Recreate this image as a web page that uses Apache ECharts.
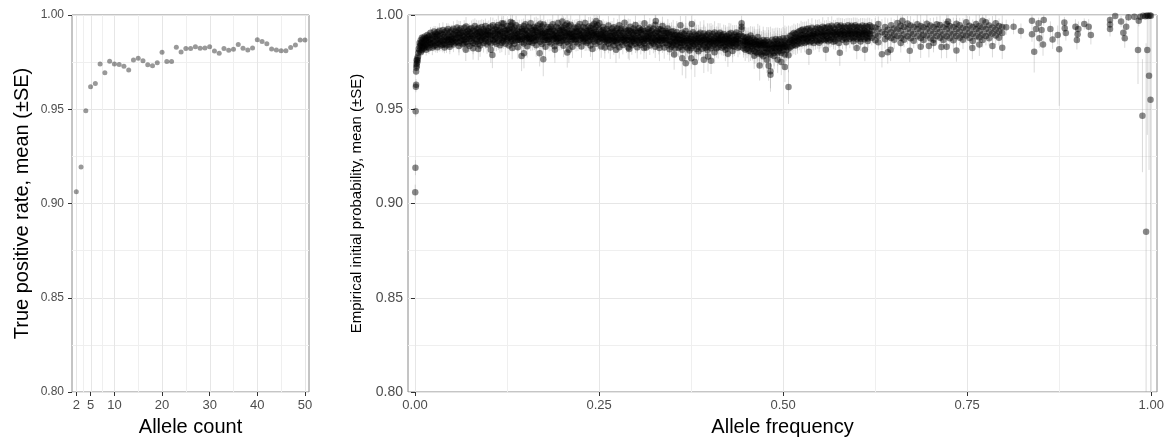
<!DOCTYPE html>
<html><head><meta charset="utf-8">
<script src="https://cdn.jsdelivr.net/npm/echarts@6/dist/echarts.min.js"></script>
<style>html,body{margin:0;padding:0;background:#fff}#c{width:1169px;height:441px}</style>
</head><body><div id="c"></div><script>
// ---- tick / grid values ----
const countTicks = [2, 5, 10, 20, 30, 40, 50];
const countMinor = [3.5, 7.5, 15, 25, 35, 45];
const freqTicks = [0, 0.25, 0.5, 0.75, 1];
const freqMinor = [0.125, 0.375, 0.625, 0.875];

// ---- left panel: true positive rate by allele count ----
const alleleCount = [2,3,4,5,6,7,8,9,10,11,12,13,14,15,16,17,18,19,20,21,22,23,24,25,26,27,28,29,30,31,32,33,34,35,36,37,38,39,40,41,42,43,44,45,46,47,48,49,50];
const tprMean = [.9062,.9193,.9492,.9620,.9637,.9740,.9694,.9754,.9740,.9738,.9728,.9708,.9761,.9770,.9757,.9736,.9731,.9747,.9802,.9753,.9753,.9829,.9804,.9822,.9822,.9832,.9823,.9825,.9832,.9809,.9797,.9822,.9813,.9818,.9844,.9823,.9814,.9825,.9869,.9860,.9848,.9820,.9814,.9811,.9811,.9827,.9841,.9867,.9867];

// ---- right panel: empirical initial probability by allele frequency ----
// edge points: [freq, mean, se]
const afEdge = [[.0003,.906,.004],[.0006,.919,.004],[.0009,.949,.003],[.0012,.962,.003],[.0015,.963,.003],[.0015,.970,.002],[.0018,.972,.002],[.002,.974,.002],[.0022,.976,.002],[.0025,.973,.002],[.003,.975,.002],[.0033,.977,.002],[.0036,.976,.002],[.004,.978,.002],[.0045,.980,.002],[.005,.982,.002]];
// band rows: [freq, se, mean, mean, ...]
const afBand = [
[.0062,.003,.9812,.9851,.9834],[.0078,.003,.9838,.9866,.9803,.9847],[.0094,.002,.9857,.9826,.9879,.9813],[.0113,.003,.9835,.9874,.9852,.9821],[.0131,.002,.9868,.9829,.9847,.9884],[.0152,.003,.9841,.9877,.9815,.9862],[.0168,.002,.9879,.9848,.9894,.9832],[.0189,.003,.9856,.9823,.9887,.9869],
[.0211,.003,.9871,.9842,.9906,.9853],[.0236,.004,.9849,.9893,.9827,.9875],[.0259,.003,.9886,.9858,.9912,.9836],[.0281,.004,.9863,.9901,.9841,.9884],[.0304,.003,.9872,.9895,.9829,.9851,.9908],[.0331,.004,.9889,.9846,.9917,.9866],[.0352,.003,.9858,.9902,.9875,.9838],[.0379,.004,.9897,.9864,.9921,.9842],[.0401,.003,.9869,.9847,.9908,.9885,.9827],[.0428,.004,.9881,.9916,.9839,.9863],[.0449,.003,.9894,.9857,.9926,.9871],[.0473,.004,.9868,.9909,.9844,.9887,.9832],[.0497,.003,.9885,.9856,.9918,.9872],
[.0522,.004,.9899,.9861,.9927,.9843,.9878],[.0548,.003,.9871,.9912,.9853,.9894],[.0571,.004,.9906,.9879,.9934,.9858],[.0597,.005,.9883,.9851,.9919,.9897,.9836],[.0619,.004,.9878,.9928,.9862,.9905],[.0646,.003,.9891,.9845,.9913,.9869],[.0668,.004,.9867,.9932,.9884,.9902,.9849],[.0693,.005,.9909,.9874,.9939,.9857],[.0717,.004,.9881,.9846,.9916,.9898],[.0741,.003,.9873,.9908,.9835,.9889,.9926],[.0766,.004,.9899,.9931,.9861,.9877],[.0789,.006,.9886,.9917,.9823,.9852],[.0813,.004,.9911,.9876,.9942,.9893,.9848],[.0838,.005,.9871,.9902,.9859,.9924],[.0861,.004,.9888,.9931,.9847,.9909],[.0884,.006,.9864,.9913,.9838,.9896,.9879],[.0907,.004,.9903,.9869,.9937,.9882],[.0931,.005,.9886,.9924,.9851,.9912],[.0956,.004,.9908,.9873,.9941,.9861,.9892],[.0979,.005,.9879,.9916,.9844,.9898],
[.1002,.004,.9894,.9931,.9858,.9912],[.1027,.005,.9873,.9906,.9849,.9938,.9887],[.1051,.007,.9788],[.1058,.004,.9915,.9866,.9946,.9893],[.1083,.005,.9889,.9857,.9924,.9903,.9872],[.1106,.004,.9921,.9879,.9848,.9937],[.1131,.005,.9896,.9864,.9947,.9913],[.1154,.004,.9874,.9918,.9839,.9891,.9902],[.1179,.005,.9907,.9936,.9869,.9853],[.1203,.004,.9889,.9861,.9926,.9955,.9878],[.1227,.006,.9916,.9883,.9847,.9903],[.1252,.004,.9898,.9941,.9866,.9921,.9875],[.1276,.005,.9881,.9912,.9838,.9929],[.1301,.004,.9909,.9871,.9944,.9886,.9857],[.1324,.005,.9891,.9926,.9862,.9957],[.1348,.004,.9917,.9879,.9848,.9934,.9895],[.1373,.005,.9903,.9864,.9946,.9883],[.1397,.006,.9876,.9915,.9829,.9899,.9868],[.1421,.004,.9908,.9935,.9869,.9884],[.1448,.008,.9782],[.1452,.005,.9887,.9856,.9927,.9912,.9873],[.1476,.004,.9914,.9881,.9849,.9941],[.1499,.005,.9899,.9866,.9951,.9884,.9922],[.1523,.006,.9878,.9917,.9834,.9893],[.1548,.004,.9906,.9938,.9871,.9886,.9857],[.1572,.005,.9891,.9859,.9929,.9956,.9874],[.1597,.004,.9918,.9878,.9852,.9903],[.1621,.005,.9897,.9937,.9864,.9885,.9921],[.1646,.006,.9882,.9914,.9839,.9931,.9866],[.1669,.004,.9907,.9871,.9944,.9892],[.1693,.007,.9797],[.1701,.005,.9888,.9925,.9858,.9909,.9953],[.1724,.004,.9916,.9881,.9846,.9939,.9897],[.1742,.009,.9765],[.1749,.005,.9904,.9865,.9949,.9884],[.1773,.006,.9879,.9913,.9831,.9902,.9869],[.1798,.004,.9908,.9936,.9868,.9889],[.1822,.005,.9886,.9857,.9927,.9911,.9874],[.1847,.004,.9915,.9883,.9849,.9938],[.1871,.005,.9899,.9869,.9951,.9887,.9922],[.1896,.006,.9877,.9914,.9834,.9893],[.1919,.004,.9904,.9938,.9871,.9886,.9859],[.1944,.005,.9892,.9861,.9929,.9957,.9876],[.1968,.004,.9917,.9879,.9852,.9906],[.1993,.005,.9898,.9937,.9864,.9885,.9921],[.2017,.006,.9881,.9912,.9837,.9932,.9866],[.2042,.004,.9906,.9869,.9946,.9891],[.2066,.005,.9889,.9924,.9858,.9909,.9955],[.2068,.008,.9801],[.2091,.004,.9916,.9882,.9848,.9941,.9896],[.2115,.005,.9902,.9863,.9948,.9884],[.2139,.006,.9882,.9915,.9831,.9899,.9871],[.2164,.004,.9907,.9934,.9868,.9886],[.2188,.005,.9889,.9857,.9928,.9912,.9873],[.2213,.004,.9913,.9884,.9849,.9939],[.2237,.005,.9901,.9868,.9952,.9889,.9921],[.2261,.006,.9878,.9916,.9833,.9894],[.2286,.004,.9907,.9937,.9872,.9885,.9861],[.2311,.005,.9893,.9859,.9929,.9958,.9876],[.2334,.004,.9914,.9881,.9851,.9904],[.2359,.005,.9898,.9939,.9862,.9887,.9919],[.2383,.006,.9883,.9914,.9838,.9931,.9867],[.2408,.004,.9905,.9871,.9944,.9893],[.2432,.005,.9891,.9923,.9859,.9907,.9954],[.2457,.004,.9913,.9879,.9848,.9937,.9897],[.2481,.005,.9899,.9865,.9946,.9884],
[.2505,.005,.9891,.9858,.9924,.9956,.9874],[.2529,.006,.9878,.9913,.9833,.9896],[.2554,.004,.9903,.9869,.9937,.9884,.9921],[.2578,.006,.9871,.9906,.9828,.9857,.9889],[.2603,.004,.9896,.9926,.9859,.9878],[.2627,.005,.9882,.9847,.9915,.9944,.9866],[.2652,.006,.9906,.9869,.9827,.9889],[.2676,.004,.9889,.9928,.9858,.9876,.9911],[.2701,.005,.9871,.9905,.9839,.9935,.9862],[.2725,.004,.9895,.9861,.9916,.9883],[.2749,.005,.9879,.9849,.9928,.9903,.9868],[.2774,.006,.9907,.9871,.9829,.9946],[.2798,.004,.9893,.9857,.9917,.9876,.9929],[.2823,.005,.9869,.9905,.9841,.9884],[.2847,.004,.9891,.9926,.9861,.9959,.9874],[.2872,.005,.9881,.9849,.9914,.9866],[.2896,.006,.9905,.9868,.9828,.9888,.9921],[.2921,.004,.9882,.9915,.9847,.9938],[.2945,.005,.9871,.9906,.9839,.9879,.9859],[.2969,.004,.9895,.9861,.9928,.9874,.9909],[.2994,.005,.9878,.9848,.9916,.9947],[.3018,.006,.9904,.9869,.9829,.9889,.9861],[.3043,.004,.9881,.9913,.9852,.9931],[.3067,.005,.9869,.9907,.9841,.9882,.9919],[.3092,.004,.9896,.9857,.9926,.9873],[.3116,.005,.9879,.9849,.9915,.9956,.9864],[.3141,.006,.9903,.9871,.9827,.9887],[.3165,.004,.9887,.9924,.9859,.9876,.9909],[.3189,.005,.9872,.9905,.9838,.9934],[.3214,.004,.9894,.9862,.9917,.9881,.9854],[.3238,.005,.9879,.9847,.9927,.9898],[.3263,.006,.9905,.9868,.9832,.9948,.9863],[.3287,.004,.9889,.9858,.9914,.9874],[.3312,.005,.9869,.9906,.9841,.9884,.9924],[.3336,.004,.9896,.9925,.9861,.9877],[.3361,.005,.9878,.9849,.9916,.9941,.9866],[.3385,.006,.9904,.9868,.9828,.9887],[.3409,.004,.9881,.9915,.9852,.9874,.9906],[.3434,.005,.9868,.9904,.9839,.9929],[.3458,.006,.9885,.9847,.9818,.9897,.9864],[.3483,.005,.9859,.9896,.9831,.9911],[.3507,.006,.9877,.9841,.9914,.9883,.9852],[.3532,.005,.9858,.9892,.9824,.9871],[.3556,.006,.9879,.9842,.9908,.9861,.9894],[.3581,.005,.9855,.9889,.9826,.9873],
[.3605,.005,.9869,.9893,.9831,.9945,.9851],[.3629,.006,.9852,.9884,.9815,.9906,.9867],[.3654,.005,.9874,.9841,.9899,.9861],[.3678,.008,.9863,.9832,.9744,.9915,.9878],[.3703,.005,.9851,.9889,.9824,.9868],[.3727,.007,.9875,.9839,.9901,.9812,.9859],[.3752,.006,.9857,.9887,.9823,.9771,.9874],[.3776,.005,.9869,.9836,.9908,.9849],[.3801,.008,.9876,.9843,.9751,.9896,.9861],[.3825,.006,.9853,.9889,.9819,.9871],[.3850,.005,.9865,.9832,.9898,.9808,.9878],[.3874,.006,.9875,.9844,.9906,.9856],[.3898,.005,.9852,.9886,.9821,.9865],[.3923,.007,.9869,.9838,.9762,.9902,.9879],[.3947,.005,.9856,.9888,.9825,.9872],[.3972,.006,.9866,.9831,.9896,.9849,.9814],[.3996,.005,.9874,.9844,.9905,.9861],[.4021,.007,.9757,.9857,.9887,.9823,.9871],[.4045,.005,.9867,.9835,.9899,.9852],[.4069,.006,.9876,.9843,.9907,.9802,.9861],[.4094,.005,.9855,.9889,.9824,.9873],[.4118,.006,.9865,.9829,.9897,.9851,.9878],[.4143,.005,.9873,.9842,.9906,.9863],[.4167,.004,.9853,.9884,.9826,.9869,.9893],[.4192,.005,.9867,.9833,.9899,.9851],[.4216,.006,.9874,.9841,.9815,.9886,.9858],[.4240,.005,.9854,.9888,.9822,.9871],[.4265,.006,.9866,.9834,.9898,.9849,.9879],[.4289,.005,.9875,.9842,.9905,.9862],[.4314,.006,.9852,.9886,.9809,.9868,.9836],[.4338,.005,.9868,.9832,.9896,.9853],[.4363,.004,.9873,.9843,.9907,.9862,.9884],[.4387,.005,.9855,.9889,.9826,.9872],[.4412,.004,.9864,.9831,.9896,.9851],[.4436,.004,.9924,.9956,.9938,.9889],[.4461,.005,.9855,.9824,.9884,.9863,.9838],[.4485,.006,.9846,.9877,.9816,.9859],
[.4509,.005,.9854,.9821,.9883,.9839,.9866],[.4534,.006,.9841,.9811,.9874,.9856],[.4558,.005,.9836,.9863,.9806,.9891,.9847],[.4583,.006,.9853,.9819,.9878,.9834],[.4607,.007,.9844,.9811,.9869,.9784,.9857],[.4632,.006,.9831,.9864,.9802,.9846],[.4656,.007,.9824,.9855,.9883,.9796,.9841],[.4681,.008,.9835,.9803,.9864,.9732,.9848],[.4705,.006,.9822,.9854,.9791,.9839],[.4730,.007,.9839,.9806,.9868,.9781,.9851],[.4754,.006,.9826,.9858,.9798,.9843],[.4779,.007,.9837,.9803,.9866,.9762,.9822],[.4803,.008,.9824,.9795,.9855,.9731,.9841],[.4828,.009,.9819,.9789,.9701,.9683,.9848],[.4852,.006,.9838,.9808,.9869,.9824],[.4877,.007,.9827,.9798,.9859,.9783,.9844],[.4901,.006,.9844,.9811,.9873,.9827],[.4926,.007,.9831,.9863,.9801,.9762,.9848],[.4950,.006,.9839,.9809,.9871,.9823],[.4975,.007,.9829,.9859,.9799,.9751,.9844],[.4999,.006,.9844,.9812,.9876,.9828],[.5024,.008,.9833,.9864,.9791,.9724,.9849],[.5048,.006,.9845,.9814,.9878,.9831],[.5073,.009,.9618,.9854,.9821,.9786],[.5097,.005,.9859,.9829,.9889,.9869],[.5121,.005,.9866,.9835,.9895,.9852],[.5146,.005,.9875,.9842,.9904,.9861],[.5170,.005,.9869,.9838,.9899,.9882],
[.5195,.005,.9878,.9845,.9907,.9862],[.5219,.004,.9885,.9853,.9914,.9871],[.5244,.005,.9879,.9849,.9919,.9893],[.5268,.004,.9894,.9861,.9923,.9876],[.5293,.005,.9881,.9852,.9915,.9897],[.5317,.004,.9889,.9858,.9926,.9872],[.5342,.005,.9896,.9864,.9929,.9881],[.5366,.004,.9886,.9855,.9918,.9902],[.5391,.005,.9893,.9862,.9933,.9877],[.5415,.004,.9888,.9914,.9852,.9901],[.5440,.005,.9898,.9866,.9926,.9882],[.5464,.004,.9891,.9861,.9934,.9906],[.5489,.005,.9899,.9869,.9928,.9853],[.5513,.004,.9893,.9924,.9863,.9908],[.5538,.005,.9902,.9872,.9938,.9887],[.5562,.004,.9896,.9866,.9931,.9912],
[.5587,.004,.9903,.9871,.9933,.9889],[.5611,.005,.9909,.9877,.9939,.9861],[.5636,.004,.9897,.9867,.9928,.9913],[.5660,.005,.9912,.9882,.9943,.9893],[.5685,.004,.9904,.9873,.9934,.9858],[.5709,.005,.9894,.9924,.9864,.9908],[.5734,.004,.9913,.9884,.9945,.9897],[.5758,.005,.9906,.9875,.9936,.9852],[.5783,.004,.9914,.9885,.9944,.9899],[.5807,.005,.9901,.9933,.9869,.9916],[.5832,.004,.9909,.9879,.9939,.9894],[.5856,.005,.9902,.9872,.9933,.9855],[.5881,.004,.9915,.9886,.9945,.9901],[.5905,.005,.9903,.9934,.9874,.9917],[.5930,.004,.9912,.9882,.9943,.9896],[.5954,.005,.9906,.9876,.9937,.9861],[.5979,.004,.9914,.9884,.9946,.9902],[.6003,.005,.9901,.9935,.9871,.9918],[.6028,.004,.9909,.9881,.9939,.9894],[.6052,.005,.9904,.9874,.9934,.9859],[.6077,.004,.9913,.9885,.9944,.9899],[.6101,.005,.9903,.9933,.9872,.9916],[.6126,.004,.9911,.9881,.9941,.9895],[.6150,.005,.9905,.9875,.9936,.9862],[.6175,.004,.9914,.9886,.9945,.9901],
[.6204,.004,.9916,.9879,.9938],[.6251,.005,.9897,.9934,.9866],[.6293,.004,.9925,.9889,.9952,.9856],[.6342,.007,.9792,.9908],[.6384,.005,.9901,.9937,.9871],[.6421,.006,.9922,.9886,.9802],[.6467,.004,.9908,.9946,.9878],[.6509,.005,.9896,.9869,.9928],[.6553,.004,.9924,.9889,.9958],[.6598,.005,.9915,.9879,.9943,.9851],[.6642,.004,.9898,.9936,.9869],[.6689,.004,.9926,.9955,.9887],[.6731,.005,.9909,.9876,.9944],[.6774,.004,.9901,.9937,.9864],[.6822,.005,.9924,.9887,.9951],[.6868,.006,.9911,.9878,.9941,.9832],[.6907,.004,.9897,.9935,.9868],[.6952,.005,.9926,.9891,.9953],[.6998,.004,.9913,.9876,.9944],[.7043,.005,.9902,.9936,.9869,.9852],[.7087,.004,.9924,.9889,.9951],[.7131,.005,.9911,.9879,.9947],[.7176,.004,.9898,.9935,.9868],[.7221,.006,.9925,.9887,.9952,.9831],[.7264,.004,.9909,.9877,.9941],[.7312,.005,.9901,.9936,.9866],[.7354,.006,.9924,.9889,.9953,.9812],[.7398,.004,.9912,.9879,.9945],[.7443,.005,.9897,.9933,.9869],[.7487,.004,.9926,.9891,.9961],[.7532,.005,.9908,.9878,.9943],[.7576,.004,.9901,.9936,.9862],[.7621,.005,.9924,.9887,.9952],[.7665,.006,.9912,.9881,.9941,.9843],[.7709,.004,.9898,.9935,.9868],[.7754,.005,.9926,.9889,.9962],[.7798,.004,.9909,.9877,.9944],[.7843,.006,.9902,.9934,.9835],[.7887,.005,.9923,.9891,.9956],[.7932,.004,.9911,.9879,.9942],[.7976,.006,.9904,.9937,.9826]
];
// scattered fringe points around the band: [freq, mean, se]
const afFringe = [[.069,.9816,.006],[.086,.982,.006],[.103,.9816,.007],[.118,.9956,.004],[.130,.9963,.004],[.132,.9825,.006],[.148,.9797,.008],[.190,.9816,.007],[.200,.9965,.004],[.209,.9816,.007],[.241,.982,.006],[.246,.9968,.004],[.273,.9816,.007],[.291,.982,.006],[.311,.9825,.006],[.327,.9968,.004],[.332,.9825,.007],[.352,.979,.008],[.363,.977,.009],[.376,.9952,.005],[.398,.978,.008],[.425,.9795,.007],[.535,.9805,.007],[.558,.9815,.006],[.577,.980,.007],[.600,.9825,.006],[.611,.9815,.006],[.646,.9815,.006],[.662,.997,.004],[.672,.981,.006],[.698,.9835,.006],[.715,.983,.006],[.724,.9965,.004],[.757,.9825,.006],[.771,.997,.004]];
// sparse high-frequency points: [freq, mean, se]
const afSparse = [[.803,.9935,.004],[.813,.9938,.004],[.823,.9915,.004],[.838,.997,.003],[.838,.9898,.004],[.841,.9805,.011],[.8435,.9926,.004],[.847,.9956,.003],[.848,.9876,.005],[.851,.992,.004],[.853,.9844,.006],[.854,.9973,.003],[.863,.9926,.004],[.866,.987,.005],[.873,.9894,.005],[.875,.9818,.03],[.882,.996,.003],[.8825,.993,.004],[.884,.9904,.004],[.897,.9938,.004],[.899,.9867,.005],[.900,.9898,.004],[.901,.9926,.004],[.909,.9952,.003],[.915,.9938,.004],[.918,.9894,.005],[.944,.9973,.002],[.944,.995,.003],[.944,.9926,.004],[.951,.9995,.001],[.959,.9965,.003],[.962,.9906,.004],[.964,.9876,.005],[.966,.9938,.004],[.969,.9988,.002],[.977,.9991,.002],[.982,.9814,.018],[.983,.997,.003],[.985,.9991,.002],[.988,.9466,.03],[.989,.9996,.001],[.992,.9993,.001],[.993,.885,.1],[.994,.9997,.001],[.9946,.9814,.045],[.996,.9995,.001],[.997,.9678,.05],[.998,.9998,.001],[.999,.955,.16],[.9995,.9996,.001]];

// ---- build series data ----
const afPoints = [];
afEdge.forEach(r => afPoints.push([r[0], r[1], r[2]]));
afBand.forEach(r => { for (let i = 2; i < r.length; i++) afPoints.push([r[0], r[i], r[1]]); });
afFringe.forEach(r => afPoints.push([r[0], r[1], r[2]]));
afSparse.forEach(r => afPoints.push([r[0], r[1], r[2]]));
const afScatter = afPoints.map(p => [p[0], p[1]]);
const afErr = afPoints.map(p => [p[0], p[1] - p[2], p[1] + p[2]]);

const FONT = 'Liberation Sans, Arial, Helvetica, sans-serif';
const LABEL = '#4d4d4d';

function vGrid(vals, major) { return vals.map(v => [v, 0.9, major ? 1 : 0]); }
function gridRender(params, api) {
  const cs = params.coordSys;
  const x = Math.round(api.coord([api.value(0), 0.9])[0]) + 0.5;
  return { type: 'line', silent: true,
    shape: { x1: x, y1: cs.y, x2: x, y2: cs.y + cs.height },
    style: { stroke: api.value(2) ? '#e6e6e6' : '#efefef', lineWidth: 1 } };
}
function errRender(params, api) {
  const x = api.value(0);
  const p1 = api.coord([x, api.value(1)]);
  const p2 = api.coord([x, api.value(2)]);
  return { type: 'line', silent: true,
    shape: { x1: p1[0], y1: p1[1], x2: p2[0], y2: p2[1] },
    style: { stroke: 'rgba(160,160,160,0.4)', lineWidth: 1 } };
}

function yAxisOpt(gridIndex, name, nameSize, nameGap, labelSize, margin) {
  return {
    type: 'value', gridIndex, min: 0.8, max: 1.0, interval: 0.05,
    name, nameLocation: 'middle', nameGap,
    nameTextStyle: { fontFamily: FONT, fontSize: nameSize, color: '#000' },
    axisLine: { show: false },
    axisTick: { show: true, length: 4, lineStyle: { color: '#333' } },
    axisLabel: { fontFamily: FONT, fontSize: labelSize, color: LABEL, margin, formatter: v => v.toFixed(2) },
    splitLine: { show: true, lineStyle: { color: '#e6e6e6', width: 1 } },
    minorTick: { show: false, splitNumber: 2 },
    minorSplitLine: { show: true, lineStyle: { color: '#efefef', width: 1 } }
  };
}

const chart = echarts.init(document.getElementById('c'), null, { renderer: 'canvas' });
chart.setOption({
  animation: false,
  backgroundColor: '#fff',
  grid: [
    { left: 72, right: 860, top: 15, bottom: 49, show: true, borderColor: '#8a8a8a', borderWidth: 1, backgroundColor: 'transparent', containLabel: false, outerBoundsMode: 'none' },
    { left: 408, right: 12, top: 15, bottom: 49, show: true, borderColor: '#8a8a8a', borderWidth: 1, backgroundColor: 'transparent', containLabel: false, outerBoundsMode: 'none' }
  ],
  xAxis: [
    { type: 'value', gridIndex: 0, min: 1.1, max: 50.85,
      name: 'Allele count', nameLocation: 'middle', nameGap: 25,
      nameTextStyle: { fontFamily: FONT, fontSize: 20, color: '#000' },
      axisLine: { show: false },
      axisTick: { show: true, length: 4, lineStyle: { color: '#333' }, customValues: countTicks },
      axisLabel: { fontFamily: FONT, fontSize: 13, color: LABEL, margin: 7, customValues: countTicks, formatter: v => String(v) },
      splitLine: { show: false } },
    { type: 'value', gridIndex: 1, min: -0.0095, max: 1.0078,
      name: 'Allele frequency', nameLocation: 'middle', nameGap: 25,
      nameTextStyle: { fontFamily: FONT, fontSize: 20, color: '#000' },
      axisLine: { show: false },
      axisTick: { show: true, length: 4, lineStyle: { color: '#333' }, customValues: freqTicks },
      axisLabel: { fontFamily: FONT, fontSize: 13, color: LABEL, margin: 7, customValues: freqTicks, formatter: v => v.toFixed(2) },
      splitLine: { show: false } }
  ],
  yAxis: [
    yAxisOpt(0, 'True positive rate, mean (\u00b1SE)', 20, 40, 12, 8),
    yAxisOpt(1, 'Empirical initial probability, mean (\u00b1SE)', 15, 40, 14, 5)
  ],
  series: [
    { type: 'custom', xAxisIndex: 0, yAxisIndex: 0, z: 1, silent: true, renderItem: gridRender,
      data: vGrid(countTicks, true).concat(vGrid(countMinor, false)), encode: { x: 0, y: 1 } },
    { type: 'custom', xAxisIndex: 1, yAxisIndex: 1, z: 1, silent: true, renderItem: gridRender,
      data: vGrid(freqTicks, true).concat(vGrid(freqMinor, false)), encode: { x: 0, y: 1 } },
    { type: 'scatter', xAxisIndex: 0, yAxisIndex: 0, z: 3, symbolSize: 5,
      itemStyle: { color: 'rgba(0,0,0,0.5)' },
      data: alleleCount.map((c, i) => [c, tprMean[i]]) },
    { type: 'custom', xAxisIndex: 1, yAxisIndex: 1, z: 2, silent: true, clip: true, renderItem: errRender,
      data: afErr, encode: { x: 0, y: [1, 2] } },
    { type: 'scatter', xAxisIndex: 1, yAxisIndex: 1, z: 3, symbolSize: 6.5, large: false,
      itemStyle: { color: 'rgba(0,0,0,0.58)' },
      data: afScatter }
  ]
});
</script></body></html>
